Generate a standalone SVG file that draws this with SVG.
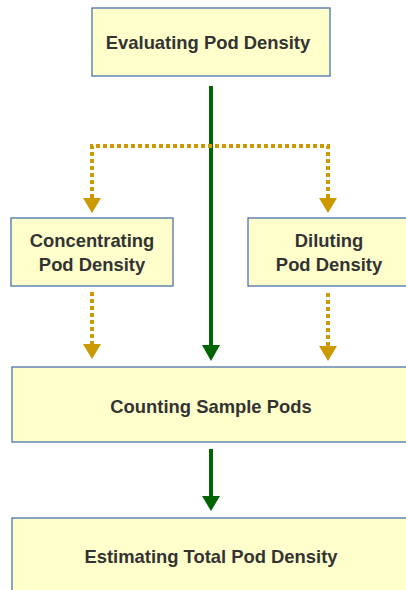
<svg xmlns="http://www.w3.org/2000/svg" width="406" height="590" viewBox="0 0 406 590">
<style>
.box{fill:#ffffcc;stroke:#4a72b0;stroke-width:1.3}
.t{font-family:"Liberation Sans",Arial,sans-serif;font-weight:bold;font-size:18.4px;fill:#333;text-anchor:middle}
.dot{fill:none;stroke:#cc9900;stroke-width:4;stroke-dasharray:4 3}
.solid{fill:none;stroke:#006400;stroke-width:4}
.oh{fill:#cc9900}
.gh{fill:#006400}
</style>
<rect width="406" height="590" fill="#fff"/>
<g id="connectors">
<line class="solid" x1="211" y1="86" x2="211" y2="347"/>
<polygon class="gh" points="202,345 220,345 211,361"/>
<polyline class="dot" points="92,198 92,146 328,146 328,198"/>
<polygon class="oh" points="83,198 101,198 92,213"/>
<polygon class="oh" points="319,198 337,198 328,213"/>
<line class="dot" x1="92" y1="292" x2="92" y2="344"/>
<polygon class="oh" points="83,344 101,344 92,359"/>
<line class="dot" x1="328" y1="293" x2="328" y2="346"/>
<polygon class="oh" points="319,346 337,346 328,361"/>
<line class="solid" x1="211" y1="449" x2="211" y2="498"/>
<polygon class="gh" points="202,496 220,496 211,511"/>
</g>
<g id="evaluating">
<rect class="box" x="92" y="8" width="238" height="68"/>
<text class="t" x="208" y="49">Evaluating Pod Density</text>
</g>
<g id="concentrating">
<rect class="box" x="11" y="218" width="162" height="68"/>
<text class="t" x="92" y="247">Concentrating</text>
<text class="t" x="92" y="271">Pod Density</text>
</g>
<g id="diluting">
<rect class="box" x="248" y="218" width="162" height="68"/>
<text class="t" x="329" y="247">Diluting</text>
<text class="t" x="329" y="271">Pod Density</text>
</g>
<g id="counting">
<rect class="box" x="12" y="367" width="400" height="75"/>
<text class="t" x="211" y="413">Counting Sample Pods</text>
</g>
<g id="estimating">
<rect class="box" x="12" y="518" width="400" height="80"/>
<text class="t" x="211" y="563">Estimating Total Pod Density</text>
</g>
</svg>
